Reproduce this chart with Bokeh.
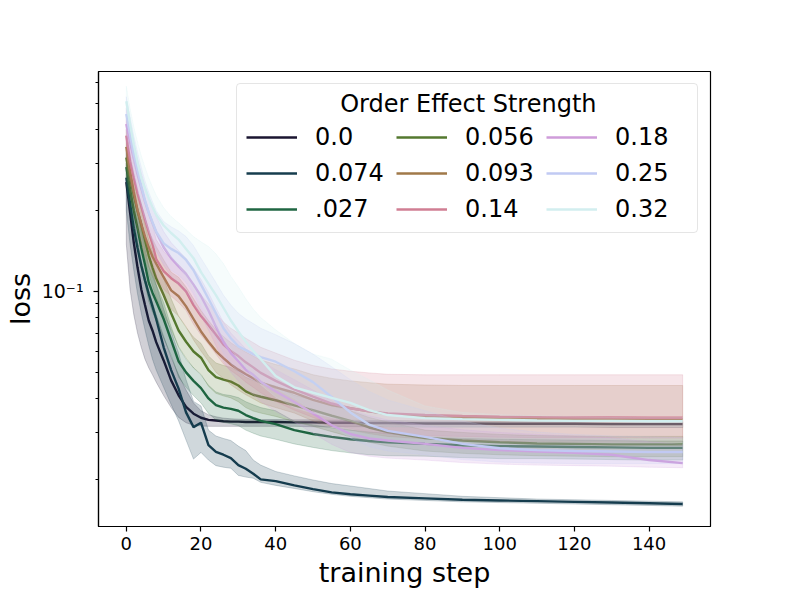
from bokeh.plotting import figure
from bokeh.models import Range1d, FixedTicker, Legend, LegendItem, Label
from bokeh.embed import file_html
from bokeh.resources import INLINE

# ---------------- data ----------------
STEPS = [0, 1, 2, 3, 4, 5, 6, 7, 8,
         10, 12, 14, 16, 18, 20, 22, 24, 26, 28, 30, 32, 34, 36,
         40, 45, 50, 55, 60, 65, 70,
         80, 90, 100, 110, 120, 130, 140, 149]

LABELS = ["0.0", "0.074", ".027", "0.056", "0.093", "0.14", "0.18", "0.25", "0.32"]
COLORS = ["#1a1530", "#163d4e", "#1f6642", "#54792f", "#a07949",
          "#d07e93", "#cf9cda", "#c1caf3", "#d2eeef"]

# 0.0
M_000 = [0.255, 0.197, 0.152, 0.123, 0.102, 0.089, 0.078, 0.0716, 0.0648,
         0.0554, 0.0467, 0.0411, 0.0372, 0.0351, 0.0339, 0.0333, 0.0331, 0.0329, 0.0328, 0.0328, 0.0327, 0.0327, 0.0327,
         0.0327, 0.0326, 0.0326, 0.0325, 0.0325, 0.0324, 0.0324,
         0.0323, 0.0323, 0.0322, 0.0322, 0.0322, 0.0321, 0.0321, 0.0321]
LO_000 = [0.150, 0.102, 0.082, 0.070, 0.062, 0.056, 0.052, 0.049, 0.046,
          0.041, 0.037, 0.034, 0.0325, 0.0318, 0.0316, 0.0315, 0.0315, 0.0315, 0.0315, 0.0315, 0.0315, 0.0315, 0.0315,
          0.0315, 0.0315, 0.0314, 0.0314, 0.0314, 0.0314, 0.0314,
          0.0313, 0.0313, 0.0313, 0.0313, 0.0313, 0.0312, 0.0312, 0.0312]
HI_000 = [0.300, 0.240, 0.190, 0.155, 0.130, 0.114, 0.100, 0.091, 0.082,
          0.068, 0.057, 0.049, 0.043, 0.0385, 0.0360, 0.0348, 0.0342, 0.0338, 0.0336, 0.0335, 0.0334, 0.0334, 0.0334,
          0.0334, 0.0333, 0.0333, 0.0332, 0.0332, 0.0331, 0.0331,
          0.0330, 0.0330, 0.0329, 0.0329, 0.0329, 0.0328, 0.0328, 0.0328]

# 0.074
M_074 = [0.265, 0.212, 0.172, 0.145, 0.125, 0.110, 0.098, 0.088, 0.079,
         0.062, 0.051, 0.0435, 0.0355, 0.0313, 0.0325, 0.0268, 0.0253, 0.0247, 0.0240, 0.0226, 0.0219, 0.0210, 0.0200,
         0.0197, 0.0190, 0.0184, 0.0179, 0.0176, 0.0174, 0.0172,
         0.0170, 0.0168, 0.0167, 0.0166, 0.0165, 0.0164, 0.0163, 0.0162]
LO_074 = [0.200, 0.150, 0.120, 0.098, 0.083, 0.072, 0.063, 0.056, 0.051,
          0.044, 0.038, 0.033, 0.028, 0.0238, 0.0252, 0.0236, 0.0225, 0.0222, 0.0220, 0.0207, 0.0204, 0.0202, 0.0195,
          0.0190, 0.0185, 0.0180, 0.0176, 0.0173, 0.0171, 0.0169,
          0.0167, 0.0165, 0.0164, 0.0163, 0.0162, 0.0161, 0.0160, 0.0159]
HI_074 = [0.330, 0.272, 0.228, 0.196, 0.171, 0.151, 0.134, 0.119, 0.106,
          0.086, 0.071, 0.059, 0.047, 0.0390, 0.0375, 0.0305, 0.0290, 0.0284, 0.0279, 0.0266, 0.0256, 0.0236, 0.0226,
          0.0214, 0.0206, 0.0199, 0.0193, 0.0189, 0.0185, 0.0181,
          0.0177, 0.0173, 0.0171, 0.0169, 0.0168, 0.0167, 0.0166, 0.0165]

# .027
M_027 = [0.290, 0.240, 0.200, 0.172, 0.145, 0.126, 0.108, 0.099, 0.092,
         0.079, 0.066, 0.055, 0.050, 0.0465, 0.0437, 0.0400, 0.0378, 0.0370, 0.0366, 0.0360, 0.0347, 0.0338, 0.0330,
         0.0321, 0.0305, 0.0295, 0.0288, 0.0282, 0.0278, 0.0275,
         0.0271, 0.0268, 0.0266, 0.0265, 0.0264, 0.0263, 0.0262, 0.0262]
LO_027 = [0.247, 0.204, 0.170, 0.146, 0.123, 0.107, 0.092, 0.084, 0.078,
          0.067, 0.058, 0.048, 0.044, 0.041, 0.0385, 0.0352, 0.0333, 0.0326, 0.0322, 0.0317, 0.0305, 0.0297, 0.0290,
          0.0282, 0.0271, 0.0263, 0.0256, 0.0251, 0.0247, 0.0245,
          0.0244, 0.0241, 0.0239, 0.0239, 0.0238, 0.0237, 0.0236, 0.0236]
HI_027 = [0.334, 0.276, 0.230, 0.198, 0.167, 0.145, 0.124, 0.114, 0.106,
          0.091, 0.074, 0.062, 0.056, 0.052, 0.0489, 0.0448, 0.0423, 0.0414, 0.0410, 0.0403, 0.0389, 0.0379, 0.0370,
          0.0360, 0.0329, 0.0319, 0.0311, 0.0305, 0.0300, 0.0297,
          0.0287, 0.0284, 0.0282, 0.0281, 0.0280, 0.0279, 0.0278, 0.0278]

# 0.056
M_056 = [0.315, 0.265, 0.228, 0.200, 0.178, 0.155, 0.136, 0.123, 0.112,
         0.097, 0.083, 0.0716, 0.065, 0.0598, 0.0567, 0.0510, 0.0480, 0.0470, 0.0462, 0.0447, 0.0425, 0.0413, 0.0406,
         0.0394, 0.0377, 0.0362, 0.0345, 0.0330, 0.0312, 0.0300,
         0.0285, 0.0279, 0.0275, 0.0272, 0.0271, 0.0270, 0.0270, 0.0270]
LO_056 = [0.268, 0.225, 0.194, 0.170, 0.151, 0.132, 0.116, 0.105, 0.095,
          0.082, 0.072, 0.0623, 0.0566, 0.0520, 0.0493, 0.0444, 0.0418, 0.0409, 0.0402, 0.0389, 0.0370, 0.0359, 0.0353,
          0.0343, 0.0328, 0.0315, 0.0301, 0.0288, 0.0275, 0.0266,
          0.0255, 0.0250, 0.0247, 0.0245, 0.0244, 0.0243, 0.0243, 0.0243]
HI_056 = [0.362, 0.305, 0.262, 0.230, 0.205, 0.178, 0.156, 0.141, 0.129,
          0.112, 0.094, 0.0809, 0.0735, 0.0676, 0.0641, 0.0576, 0.0542, 0.0531, 0.0522, 0.0505, 0.0480, 0.0467, 0.0459,
          0.0445, 0.0411, 0.0395, 0.0376, 0.0360, 0.0340, 0.0327,
          0.0305, 0.0299, 0.0294, 0.0291, 0.0290, 0.0289, 0.0289, 0.0289]

# 0.093
M_093 = [0.345, 0.280, 0.235, 0.200, 0.178, 0.160, 0.146, 0.135, 0.127,
         0.113, 0.101, 0.096, 0.088, 0.079, 0.071, 0.065, 0.060, 0.0565, 0.0535, 0.0512, 0.0492, 0.0475, 0.0458,
         0.0440, 0.0420, 0.0395, 0.0378, 0.0368, 0.0358, 0.0350,
         0.0343, 0.0339, 0.0337, 0.0336, 0.0335, 0.0335, 0.0335, 0.0335]
LO_093 = [0.293, 0.238, 0.200, 0.170, 0.151, 0.136, 0.124, 0.115, 0.108,
          0.096, 0.086, 0.081, 0.074, 0.066, 0.060, 0.055, 0.050, 0.0475, 0.0450, 0.0430, 0.0413, 0.0399, 0.0385,
          0.0370, 0.0353, 0.0330, 0.0315, 0.0305, 0.0296, 0.0289,
          0.0283, 0.0279, 0.0277, 0.0276, 0.0275, 0.0275, 0.0275, 0.0275]
HI_093 = [0.400, 0.325, 0.273, 0.232, 0.206, 0.186, 0.169, 0.157, 0.147,
          0.131, 0.118, 0.113, 0.104, 0.094, 0.085, 0.078, 0.072, 0.0680, 0.0645, 0.0618, 0.0595, 0.0575, 0.0556,
          0.0535, 0.0515, 0.0490, 0.0475, 0.0465, 0.0458, 0.0452,
          0.0449, 0.0447, 0.0447, 0.0447, 0.0447, 0.0447, 0.0447, 0.0447]

# 0.14
M_14 = [0.380, 0.305, 0.265, 0.232, 0.207, 0.185, 0.166, 0.150, 0.132,
        0.119, 0.112, 0.107, 0.100, 0.089, 0.081, 0.075, 0.069, 0.0635, 0.0600, 0.0575, 0.0545, 0.0522, 0.0498,
        0.0465, 0.0432, 0.0406, 0.0383, 0.0368, 0.0358, 0.0352,
        0.0347, 0.0344, 0.0342, 0.0341, 0.0340, 0.0340, 0.0339, 0.0339]
LO_14 = [0.325, 0.262, 0.228, 0.199, 0.178, 0.159, 0.143, 0.129, 0.114,
         0.102, 0.096, 0.091, 0.085, 0.0755, 0.0688, 0.0636, 0.0585, 0.0538, 0.0508, 0.0486, 0.0460, 0.0440, 0.0420,
         0.0390, 0.0362, 0.0340, 0.0321, 0.0309, 0.0300, 0.0295,
         0.0291, 0.0289, 0.0287, 0.0286, 0.0286, 0.0286, 0.0285, 0.0285]
HI_14 = [0.440, 0.355, 0.308, 0.270, 0.242, 0.217, 0.195, 0.177, 0.156,
         0.141, 0.132, 0.126, 0.118, 0.106, 0.097, 0.090, 0.083, 0.0770, 0.0730, 0.0700, 0.0670, 0.0645, 0.0620,
         0.0590, 0.0555, 0.0530, 0.0515, 0.0505, 0.0498, 0.0492,
         0.0490, 0.0490, 0.0490, 0.0490, 0.0490, 0.0490, 0.0490, 0.0490]

# 0.18
M_18 = [0.420, 0.360, 0.312, 0.272, 0.242, 0.216, 0.196, 0.180, 0.166,
        0.146, 0.133, 0.124, 0.116, 0.106, 0.096, 0.085, 0.074, 0.065, 0.059, 0.0550, 0.0512, 0.0490, 0.0462,
        0.0425, 0.0388, 0.0352, 0.0318, 0.0295, 0.0284, 0.0279,
        0.0271, 0.0262, 0.0257, 0.0254, 0.0251, 0.0247, 0.0236, 0.0230]
LO_18 = [0.360, 0.308, 0.267, 0.233, 0.207, 0.185, 0.168, 0.154, 0.142,
         0.125, 0.114, 0.106, 0.099, 0.090, 0.081, 0.072, 0.063, 0.055, 0.050, 0.0465, 0.0433, 0.0413, 0.0390,
         0.0358, 0.0327, 0.0297, 0.0270, 0.0252, 0.0244, 0.0240,
         0.0236, 0.0231, 0.0228, 0.0226, 0.0225, 0.0224, 0.0222, 0.0221]
HI_18 = [0.480, 0.412, 0.357, 0.311, 0.277, 0.247, 0.224, 0.206, 0.190,
         0.167, 0.152, 0.142, 0.133, 0.122, 0.111, 0.099, 0.087, 0.077, 0.070, 0.0655, 0.0612, 0.0587, 0.0555,
         0.0512, 0.0470, 0.0430, 0.0392, 0.0363, 0.0345, 0.0333,
         0.0318, 0.0306, 0.0299, 0.0294, 0.0290, 0.0286, 0.0276, 0.0270]

# 0.25
M_25 = [0.457, 0.385, 0.325, 0.282, 0.247, 0.218, 0.197, 0.181, 0.167,
        0.151, 0.144, 0.139, 0.131, 0.120, 0.106, 0.094, 0.083, 0.073, 0.067, 0.0625, 0.0605, 0.0585, 0.0570,
        0.0548, 0.0505, 0.0460, 0.0405, 0.0355, 0.0320, 0.0303,
        0.0288, 0.0271, 0.0261, 0.0257, 0.0255, 0.0254, 0.0253, 0.0253]
LO_25 = [0.390, 0.328, 0.277, 0.240, 0.210, 0.185, 0.167, 0.153, 0.141,
         0.127, 0.120, 0.115, 0.108, 0.098, 0.086, 0.076, 0.067, 0.059, 0.054, 0.0502, 0.0485, 0.0468, 0.0455,
         0.0436, 0.0400, 0.0360, 0.0318, 0.0285, 0.0265, 0.0255,
         0.0247, 0.0237, 0.0232, 0.0230, 0.0229, 0.0229, 0.0229, 0.0229]
HI_25 = [0.530, 0.448, 0.380, 0.330, 0.290, 0.258, 0.234, 0.216, 0.200,
         0.182, 0.174, 0.168, 0.160, 0.148, 0.133, 0.120, 0.108, 0.097, 0.089, 0.083, 0.079, 0.076, 0.073,
         0.069, 0.064, 0.0585, 0.0525, 0.0470, 0.0425, 0.0395,
         0.0360, 0.0330, 0.0310, 0.0300, 0.0294, 0.0290, 0.0288, 0.0287]

# 0.32
M_32 = [0.510, 0.420, 0.352, 0.302, 0.265, 0.242, 0.222, 0.206, 0.193,
        0.176, 0.165, 0.156, 0.144, 0.133, 0.118, 0.107, 0.097, 0.087, 0.078, 0.071, 0.065, 0.060, 0.056,
        0.0485, 0.0440, 0.0420, 0.0402, 0.0385, 0.0362, 0.0347,
        0.0338, 0.0335, 0.0333, 0.0331, 0.0330, 0.0330, 0.0329, 0.0329]
LO_32 = [0.440, 0.360, 0.300, 0.255, 0.218, 0.198, 0.182, 0.170, 0.160,
         0.145, 0.134, 0.125, 0.114, 0.103, 0.090, 0.081, 0.074, 0.067, 0.061, 0.056, 0.052, 0.048, 0.045,
         0.0405, 0.0370, 0.0352, 0.0340, 0.0330, 0.0318, 0.0314,
         0.0313, 0.0313, 0.0313, 0.0313, 0.0313, 0.0313, 0.0313, 0.0313]
HI_32 = [0.580, 0.480, 0.410, 0.360, 0.320, 0.290, 0.265, 0.245, 0.228,
         0.205, 0.190, 0.180, 0.170, 0.160, 0.153, 0.147, 0.138, 0.127, 0.114, 0.104, 0.094, 0.086, 0.080,
         0.072, 0.064, 0.0585, 0.0560, 0.0510, 0.0470, 0.0430,
         0.0375, 0.0355, 0.0348, 0.0345, 0.0342, 0.0341, 0.0340, 0.0340]

MEANS = [M_000, M_074, M_027, M_056, M_093, M_14, M_18, M_25, M_32]
LOWS = [LO_000, LO_074, LO_027, LO_056, LO_093, LO_14, LO_18, LO_25, LO_32]
HIGHS = [HI_000, HI_074, HI_027, HI_056, HI_093, HI_14, HI_18, HI_25, HI_32]

XTICKS = [0, 20, 40, 60, 80, 100, 120, 140]
YTICK_MAJOR = [0.1]
YTICK_MINOR = [0.02, 0.03, 0.04, 0.05, 0.06, 0.07, 0.08, 0.09, 0.2, 0.3, 0.4, 0.5, 0.6]
YTICK_LABELS = {0.1: "10\u207b\u00b9"}
X_LIMITS = (-7.45, 156.45)
Y_LIMITS = (0.01336, 0.658)

FONT = "DejaVu Sans"

# ---------------- figure ----------------
W, H = 788, 591
p = figure(width=W, height=H,
           x_range=Range1d(*X_LIMITS), y_range=Range1d(*Y_LIMITS),
           y_axis_type="log", output_backend="svg", toolbar_location=None,
           min_border_left=98, min_border_right=W - 710,
           min_border_top=71, min_border_bottom=H - 526)
p.xgrid.visible = False
p.ygrid.visible = False
p.background_fill_color = "white"
p.border_fill_color = "white"
p.outline_line_color = "black"
p.outline_line_width = 1.2
p.outline_line_alpha = 1.0

items = []
for label, color, m, lo, hi in zip(LABELS, COLORS, MEANS, LOWS, HIGHS):
    r = p.line(STEPS, m, line_color=color, line_width=2.4)
    p.patch(STEPS + STEPS[::-1], hi + lo[::-1],
            fill_color=color, fill_alpha=0.2,
            line_color=color, line_alpha=0.2, line_width=1)
    items.append(LegendItem(label=label, renderers=[r]))

# axes
p.xaxis.ticker = FixedTicker(ticks=XTICKS)
p.yaxis.ticker = FixedTicker(ticks=YTICK_MAJOR, minor_ticks=YTICK_MINOR)
p.yaxis.major_label_overrides = YTICK_LABELS
p.xaxis.axis_label = "training step"
p.yaxis.axis_label = "loss"
for ax in (p.xaxis[0], p.yaxis[0]):
    ax.axis_line_color = "black"
    ax.axis_line_width = 1.2
    ax.major_tick_line_color = "black"
    ax.major_tick_line_width = 1.2
    ax.minor_tick_line_color = "black"
    ax.minor_tick_line_width = 1.0
    ax.major_tick_in = 0
    ax.major_tick_out = 5
    ax.minor_tick_in = 0
    ax.minor_tick_out = 3
    ax.major_label_text_font = FONT
    ax.major_label_text_color = "black"
    ax.axis_label_text_font = FONT
    ax.axis_label_text_font_size = "27px"
    ax.axis_label_text_font_style = "normal"
    ax.axis_label_text_color = "black"
p.xaxis.major_label_text_font_size = "18px"
p.yaxis.major_label_text_font_size = "19px"
p.xaxis.major_label_standoff = 5
p.xaxis.axis_label_standoff = 4
p.yaxis.major_label_standoff = 10
p.yaxis.axis_label_standoff = 3

# legend
legend = Legend(items=items, location="top_right", orientation="vertical")
if "ncols" in Legend.properties():
    legend.ncols = 3
legend.title = " "
legend.title_text_font = FONT
legend.title_text_font_size = "24px"
legend.title_standoff = 2
legend.label_text_font = FONT
legend.label_text_font_size = "24px"
legend.label_text_color = "black"
legend.glyph_width = 51
legend.glyph_height = 20
legend.label_standoff = 18
legend.label_width = 73
legend.label_height = 20
legend.spacing = 8
legend.padding = 9
legend.margin = 12
legend.border_line_color = "#cccccc"
legend.border_line_width = 1
legend.background_fill_color = "white"
legend.background_fill_alpha = 0.0
if "border_radius" in Legend.properties():
    legend.border_radius = 4
p.add_layout(legend)

title = Label(x=91.6, y=0.5, text="Order Effect Strength",
              text_align="center", text_baseline="middle",
              text_font=FONT, text_font_size="24px", text_color="black")
p.add_layout(title)

open("out.html", "w").write(file_html(p, INLINE))
